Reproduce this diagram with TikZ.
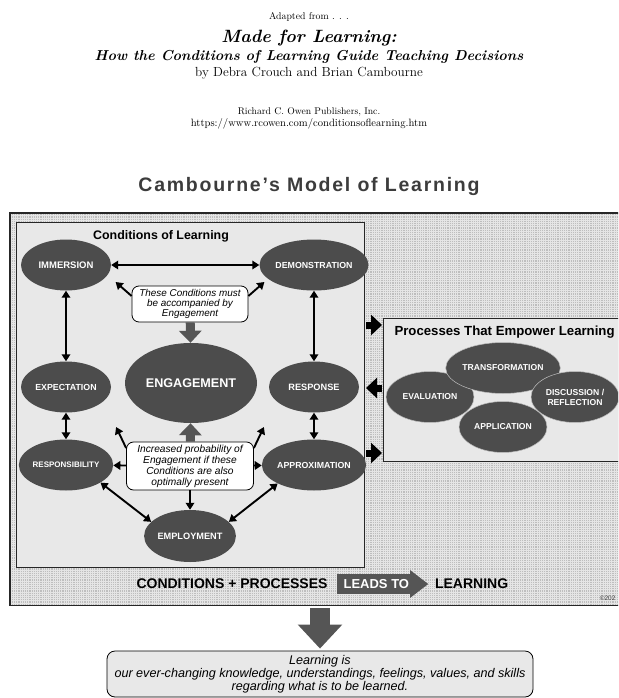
\documentclass[tikz,border=0pt]{standalone}
\usepackage{fontspec}
\setsansfont{Liberation Sans}
\newfontfamily\spacedsans[LetterSpace=9]{Liberation Sans}
\usetikzlibrary{arrows.meta,positioning,shapes.geometric,shapes.arrows,calc}
\definecolor{ovalgray}{RGB}{76,76,76}
\definecolor{blockgray}{RGB}{85,85,85}
\definecolor{panelgray}{RGB}{232,232,232}
\definecolor{framegray}{RGB}{190,190,190}
\definecolor{titlegray}{RGB}{60,60,60}

\begin{document}
\begin{tikzpicture}[
  x=1pt, y=-1pt,
  cond/.style={ellipse, fill=ovalgray, text=white, minimum width=90pt, minimum height=51pt, inner sep=0pt, font=\sffamily\bfseries\fontsize{8.8}{10}\selectfont},
  proc/.style={cond, draw=white!75!black, line width=0.5pt, minimum width=88pt, align=center, font=\sffamily\bfseries\fontsize{8.6}{10}\selectfont},
  note/.style={draw, line width=0.8pt, rounded corners=7pt, fill=white, align=center, inner sep=1pt, font=\sffamily\itshape\fontsize{9.9}{9.8}\selectfont},
  arr/.style={line width=1.9pt, -{Triangle[length=7pt,width=8.5pt]}},
  dbl/.style={line width=1.9pt, {Triangle[length=7pt,width=8.5pt]}-{Triangle[length=7pt,width=8.5pt]}},
  fat/.style={blockgray, line width=9pt, -{Triangle[length=12pt,width=22pt]}},
  nub/.style={black, line width=7pt, -{Triangle[length=11pt,width=20pt]}, shorten <=1pt, shorten >=1pt}
]
\useasboundingbox (0,0) rectangle (618,698);
\clip (0,0) rectangle (618,698);

% book header
\node[font=\fontsize{9.8}{11}\selectfont] (adapt) at (309,17) {Adapted from . . .};
\node[font=\bfseries\itshape\fontsize{17.8}{20}\selectfont] (book) at (309,38) {Made for Learning:};
\node[font=\bfseries\itshape\fontsize{14.4}{16}\selectfont] (subt) at (309,57) {How the Conditions of Learning Guide Teaching Decisions};
\node[font=\fontsize{13.2}{14}\selectfont] (authors) at (309,73) {by Debra Crouch and Brian Cambourne};
\node[font=\fontsize{9.7}{11}\selectfont] (publ) at (309,112) {Richard C. Owen Publishers, Inc.};
\node[font=\fontsize{10.6}{11}\selectfont] (url) at (309,124) {https://www.rcowen.com/conditionsoflearning.htm};

\node[text=titlegray, font=\spacedsans\bfseries\fontsize{19.5}{22}\selectfont] (title) at (309,186) {Cambourne’s Model of Learning};

% dotted frame
\node[fill=framegray, anchor=north west, minimum width=630pt, minimum height=392pt, inner sep=0pt] (frame) at (10,213) {};
\draw[white!90!black, line width=0.45pt, step=2.2pt] (frame.north west) grid (frame.south east);
\draw[black!85, line width=1.2pt] (frame.north west) rectangle (frame.south east);

% panels
\node[draw=black!85, line width=1pt, fill=panelgray, anchor=north west, minimum width=348pt, minimum height=345pt, inner sep=0pt] (condbox) at (16,222) {};
\node[draw=black!85, line width=1pt, fill=panelgray, anchor=north west, minimum width=260pt, minimum height=143pt, inner sep=0pt] (procbox) at (383,318) {};

\node[font=\sffamily\bfseries\fontsize{12.4}{14}\selectfont] (ctitle) at (161,236) {Conditions of Learning};

% conditions
\node[cond, font=\sffamily\bfseries\fontsize{9.5}{10}\selectfont] (imm) at (66,265) {IMMERSION};
\node[cond, minimum width=94pt] (demo) at (314,265) {DEMONSTRATION};
\node[cond] (expe) at (66,387) {EXPECTATION};
\node[cond, minimum width=132pt, minimum height=80pt, font=\sffamily\bfseries\fontsize{12.6}{14}\selectfont] (eng) at (191,383) {ENGAGEMENT};
\node[cond, font=\sffamily\bfseries\fontsize{9.2}{10}\selectfont] (resp) at (314,387) {RESPONSE};
\node[cond, font=\sffamily\bfseries\fontsize{8}{10}\selectfont] (rspb) at (66,465) {RESPONSIBILITY};
\node[cond] (appr) at (314,465) {APPROXIMATION};
\node[cond, minimum width=86pt, minimum height=52pt, font=\sffamily\bfseries\fontsize{9.2}{10}\selectfont] (empl) at (190,536) {EMPLOYMENT};

\node[note, minimum width=116pt, minimum height=36pt] (must) at (190,304) {These Conditions must\\be accompanied by\\Engagement};
\node[note, minimum width=127pt, minimum height=48pt, font=\sffamily\itshape\fontsize{10.2}{11}\selectfont] (prob) at (190,466) {Increased probability of\\Engagement if these\\Conditions are also\\optimally present};

\draw[dbl] (imm) -- (demo);
\draw[dbl] (imm) -- (expe);
\draw[dbl] (demo) -- (resp);
\draw[dbl] (expe) -- (rspb);
\draw[dbl] (resp) -- (appr);
\draw[dbl] (rspb.-27) -- (empl.160);
\draw[dbl] (appr.207) -- (empl.20);

\draw[arr] ([yshift=8pt]must.west) -- ++(-16,-14);
\draw[arr] ([yshift=8pt]must.east) -- ++(16,-14);
\draw[fat] (must) -- (eng);
\draw[fat] (prob) -- (eng);
\draw[arr] ([yshift=18pt]prob.west) -- ++(-10,-21);
\draw[arr] ([yshift=18pt]prob.east) -- ++(10,-21);
\draw[arr] (prob) -- (rspb);
\draw[arr] (prob) -- (appr);
\draw[arr] (prob) -- (empl);

% processes
\node[anchor=west, font=\sffamily\bfseries\fontsize{13.2}{15}\selectfont] (ptitle) at (391,332) {Processes That Empower Learning};
\node[proc] (eval) at (430,397) {EVALUATION};
\node[proc] (trans) at (503,368) {TRANSFORMATION};
\node[proc] (appl) at (503,427) {APPLICATION};
\node[proc] (disc) at (575,397) {DISCUSSION /\\REFLECTION};

\draw[nub] (condbox.east |- 0,325) -- (procbox.west |- 0,325);
\draw[nub] (procbox.west |- 0,388) -- (condbox.east |- 0,388);
\draw[nub] (condbox.east |- 0,453) -- (procbox.west |- 0,453);

% bottom line of the frame
\node[font=\sffamily\bfseries\fontsize{14}{16}\selectfont] (cp) at (232,584) {CONDITIONS + PROCESSES};
\node[single arrow, fill=blockgray, text=white, font=\sffamily\bfseries\fontsize{13}{15}\selectfont, inner xsep=3pt, inner ysep=5pt, single arrow head extend=4pt, single arrow tip angle=75, minimum height=91pt, right=6pt of cp] (leads) {LEADS TO};
\node[font=\sffamily\bfseries\fontsize{14}{16}\selectfont, right=3pt of leads] (learn) {LEARNING};
\node[anchor=east, text=black!75, font=\sffamily\fontsize{6.5}{7}\selectfont] (copy) at (619,598) {©202};

% definition
\node[draw, line width=0.8pt, rounded corners=8pt, fill=panelgray, align=center, minimum width=426pt, minimum height=46pt, inner ysep=2pt, font=\sffamily\itshape\fontsize{12.6}{13}\selectfont] (def) at (320,674) {Learning is\\our ever-changing knowledge, understandings, feelings, values, and skills\\regarding what is to be learned.};
\draw[blockgray, line width=20pt, -{Triangle[length=24pt,width=43pt]}, shorten <=3pt, shorten >=2pt] (def.north |- frame.south) -- (def.north);
\end{tikzpicture}
\end{document}
